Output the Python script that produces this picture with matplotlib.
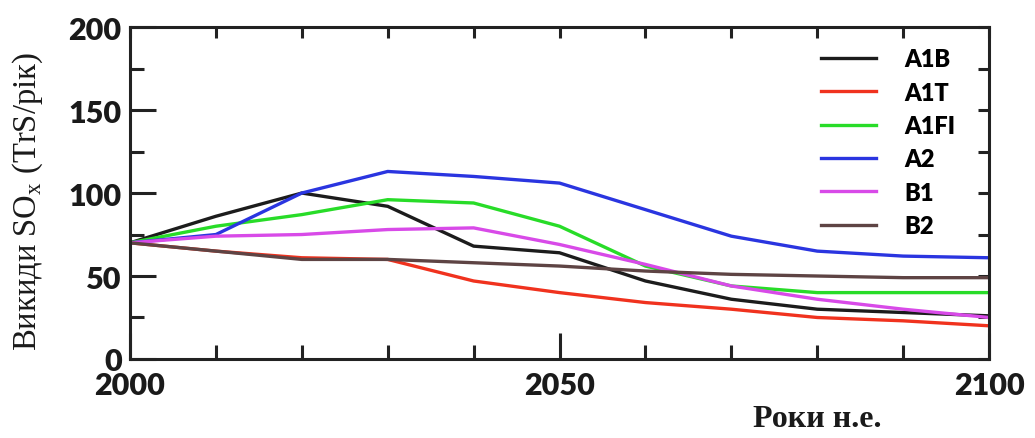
import matplotlib.pyplot as plt
from matplotlib.ticker import MultipleLocator

years = [2000, 2010, 2020, 2030, 2040, 2050, 2060, 2070, 2080, 2090, 2100]

a1b = [70, 86, 100, 92, 68, 64, 47, 36, 30, 28, 26]
a1t = [70, 65, 61, 60, 47, 40, 34, 30, 25, 23, 20]
a1fi = [70, 80, 87, 96, 94, 80, 56, 44, 40, 40, 40]
a2 = [70, 75, 100, 113, 110, 106, 90, 74, 65, 62, 61]
b1 = [70, 74, 75, 78, 79, 69, 57, 44, 36, 30, 25]
b2 = [70, 65, 60, 60, 58, 56, 53, 51, 50, 49, 49]

names = ["A1B", "A1T", "A1FI", "A2", "B1", "B2"]
colors = ["#1c1c1c", "#f0321e", "#28dc28", "#2a35e0", "#d84ae8", "#5e4444"]

fig = plt.figure(figsize=(10.35, 4.39), dpi=100)
ax = fig.add_axes([0.1256, 0.18, 0.83, 0.756])

for vals, name, c in zip([a1b, a1t, a1fi, a2, b1, b2], names, colors):
    ax.plot(years, vals, color=c, lw=2.4, label=name)

ax.set_xlim(2000, 2100)
ax.set_ylim(0, 200)
ax.set_xticks([2000, 2050, 2100])
ax.xaxis.set_minor_locator(MultipleLocator(10))
ax.set_yticks([0, 50, 100, 150, 200])
ax.yaxis.set_minor_locator(MultipleLocator(25))

for s in ax.spines.values():
    s.set_linewidth(2.2)
    s.set_color("#222222")

ax.tick_params(which="major", direction="in", length=19, width=2.2, color="#222222",
               labelsize=22, pad=6)
ax.tick_params(which="minor", direction="in", length=10, width=2.2, color="#222222")
ax.tick_params(axis="x", which="major", pad=9)

for lab in ax.get_xticklabels() + ax.get_yticklabels():
    lab.set_fontfamily("Lato")
    lab.set_fontweight("heavy")
    lab.set_color("#1a1a1a")

# top and right ticks, all short
top = ax.secondary_xaxis("top")
top.set_xticks(list(range(2000, 2101, 10)))
top.tick_params(direction="in", length=8, width=2.2, color="#222222", labeltop=False)
right = ax.secondary_yaxis("right")
right.set_yticks(list(range(0, 201, 25)))
right.tick_params(direction="in", length=8, width=2.2, color="#222222", labelright=False)

leg = ax.legend(loc="upper right", bbox_to_anchor=(0.985, 1.0), frameon=False,
                handlelength=2.3, labelspacing=0.48, handletextpad=1.2,
                prop={"family": "Lato", "weight": "heavy", "size": 17})

fig.text(0.027, 0.54, "Викиди SO$_\\mathregular{x}$ (TrS/рік)", rotation=90,
         ha="center", va="center", fontsize=23.5, family="Liberation Serif",
         color="#1a1a1a")
fig.text(0.79, 0.045, "Роки н.е.", ha="center", va="center", fontsize=23,
         family="Liberation Serif", fontweight="bold", color="#1a1a1a")

fig.savefig("out.png", dpi=100)
